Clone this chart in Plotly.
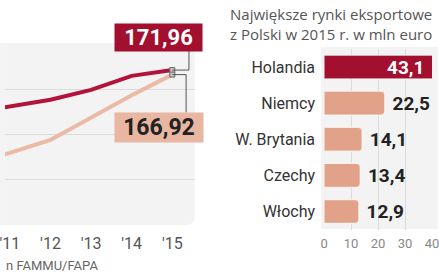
import plotly.graph_objects as go

# ---------------- data ----------------
years = [2010, 2011, 2012, 2013, 2014, 2015]
year_labels = ["'10", "'11", "'12", "'13", "'14", "'15"]
series_a = [124, 131, 139, 150, 165.5, 171.96]   # dark red line
series_b = [68, 80, 94.4, 119, 144, 166.92]      # salmon line

countries = ["Holandia", "Niemcy", "W. Brytania", "Czechy", "Włochy"]
exports = [43.1, 22.5, 14.1, 13.4, 12.9]
bar_ticks = [0, 10, 20, 30, 40]
bar_range = [0, 40]

title_lines = ["Największe rynki eksportowe", "z Polski w 2015 r. w mln euro"]
source_text = "n FAMMU/FAPA"

def fmt(v):
    s = f"{v:.2f}" if abs(v * 10 - round(v * 10)) > 1e-9 else f"{v:.1f}"
    return s.replace(".", ",")

# ---------------- geometry (pixels) ----------------
W, H = 439, 274
def px(x):
    return x / W
def py(y):
    return 1 - y / H

RED = "#b3123a"
RED_BOX = "#a30f2e"
SALMON_LINE = "#ebb9a4"
SALMON_BAR = "#e2a189"
SALMON_BOX = "#e8b6a1"
PANEL = "#f3f3f3"
GRID = "#dcdcdc"
FONT = "Roboto"
NB = "\u00a0"

fig = go.Figure()

fig.add_trace(go.Scatter(x=years, y=series_b, mode="lines",
                         line=dict(color=SALMON_LINE, width=4), xaxis="x", yaxis="y",
                         hoverinfo="skip", showlegend=False))
fig.add_trace(go.Scatter(x=years, y=series_a, mode="lines",
                         line=dict(color=RED, width=4), xaxis="x", yaxis="y",
                         hoverinfo="skip", showlegend=False))
fig.add_trace(go.Scatter(x=[years[-1], years[-1]], y=[series_a[-1], series_b[-1]], mode="markers",
                         marker=dict(symbol="square", size=5, color="#c8c8c8",
                                     line=dict(color="#666", width=1)),
                         xaxis="x", yaxis="y", hoverinfo="skip", showlegend=False))

bar_colors = [RED_BOX] + [SALMON_BAR] * (len(exports) - 1)
bar_text = ["" if v > bar_range[1] else NB + f"<b>{fmt(v)}</b>" for v in exports]
fig.add_trace(go.Bar(y=countries, x=exports, orientation="h", xaxis="x2", yaxis="y2",
                     text=bar_text, textposition="outside",
                     textangle=0, constraintext="none", cliponaxis=False,
                     outsidetextfont=dict(family=FONT, size=19, color="#222"),
                     marker=dict(color=bar_colors, cornerradius=4,
                                 line=dict(color="rgba(255,255,255,0.7)", width=1.2)),
                     hoverinfo="skip", showlegend=False))

# ---------------- panels ----------------
x0, x1, y0, y1, r = 0, 195, 43, 225, 9
path = (f"M {px(x0-5)},{py(y0)} L {px(x1)},{py(y0)} L {px(x1)},{py(y1-r)} "
        f"Q {px(x1)},{py(y1)} {px(x1-r)},{py(y1)} L {px(x0-5)},{py(y1)} Z")
shapes = [dict(type="path", path=path, xref="paper", yref="paper",
               fillcolor=PANEL, line=dict(width=0), layer="below")]
shapes.append(dict(type="rect", xref="paper", yref="paper", x0=px(325), x1=px(445),
                   y0=py(229), y1=py(47), fillcolor=PANEL, line=dict(width=0), layer="below"))

# leader lines from end points to labels (data coords)
xe = years[-1]
sa, sb = series_a[-1], series_b[-1]
shapes += [
    dict(type="line", xref="x", yref="y", x0=xe, x1=xe + 0.41, y0=sa, y1=sa, line=dict(color="#555", width=1)),
    dict(type="line", xref="x", yref="y", x0=xe + 0.41, x1=xe + 0.41, y0=sa, y1=sa + 22, line=dict(color="#555", width=1)),
    dict(type="line", xref="x", yref="y", x0=xe, x1=xe + 0.34, y0=sb, y1=sb, line=dict(color="#555", width=1)),
    dict(type="line", xref="x", yref="y", x0=xe + 0.34, x1=xe + 0.34, y0=sb, y1=sb - 42, line=dict(color="#555", width=1)),
]

annotations = [
    dict(x=xe, y=sa, xref="x", yref="y", text=f"<b>{fmt(sa)}</b>", showarrow=False,
         xshift=-13.5, yshift=33, width=87, height=27, borderpad=0, bgcolor=RED_BOX,
         font=dict(family=FONT, size=22, color="white")),
    dict(x=xe, y=sb, xref="x", yref="y", text=f"<b>{fmt(sb)}</b>", showarrow=False,
         xshift=-13, yshift=-53, width=88, height=29, borderpad=0, bgcolor=SALMON_BOX,
         font=dict(family=FONT, size=23, color="#222")),
    dict(x=px(-1), y=py(265), xref="paper", yref="paper", text=source_text, showarrow=False,
         xanchor="left", yanchor="middle", font=dict(family=FONT, size=13, color="#666")),
    dict(x=px(229), y=py(24), xref="paper", yref="paper", text="<br>".join(title_lines),
         showarrow=False, xanchor="left", yanchor="middle", align="left",
         font=dict(family="Open Sans", size=15, color="#555")),
]
# labels of bars running past the axis end: placed inside the bar, in axis-domain units
for c, v in zip(countries, exports):
    if v > bar_range[1]:
        annotations.append(dict(x=(v - bar_range[0]) / (bar_range[1] - bar_range[0]), y=c,
                                xref="x2 domain", yref="y2", text=f"<b>{fmt(v)}</b>",
                                showarrow=False, xanchor="right", xshift=-14,
                                font=dict(family=FONT, size=19, color="white")))

fig.update_layout(
    width=W, height=H, margin=dict(l=0, r=0, t=0, b=0),
    paper_bgcolor="white", plot_bgcolor="rgba(0,0,0,0)",
    shapes=shapes, annotations=annotations, bargap=0.34,
    xaxis=dict(domain=[0, px(195)], range=[2010.88, 2015.551], tickvals=years, ticktext=year_labels,
               showgrid=False, zeroline=False, showline=False, ticks="",
               tickfont=dict(family=FONT, size=16, color="#555"),
               ticklabeloverflow="allow", ticklabelstandoff=7, fixedrange=True),
    yaxis=dict(domain=[py(225), py(43)], range=[0, 202], tickvals=[50, 100, 150],
               showticklabels=False, showgrid=True, gridcolor=GRID, gridwidth=1,
               zeroline=False, showline=False, fixedrange=True),
    xaxis2=dict(domain=[px(328), 1], range=bar_range, tickvals=bar_ticks,
                showgrid=True, gridcolor=GRID, gridwidth=1, zeroline=False, showline=False,
                ticks="", tickfont=dict(family=FONT, size=13, color="#888"),
                ticklabeloverflow="allow", ticklabelstandoff=4, anchor="y2", fixedrange=True),
    yaxis2=dict(domain=[py(229.5), py(49)], type="category", autorange="reversed",
                showgrid=False, zeroline=False, showline=False, ticks="",
                tickfont=dict(family=FONT, size=16, color="#333"),
                ticklabelstandoff=8, anchor="x2", fixedrange=True),
)

fig.write_html("out.html")
